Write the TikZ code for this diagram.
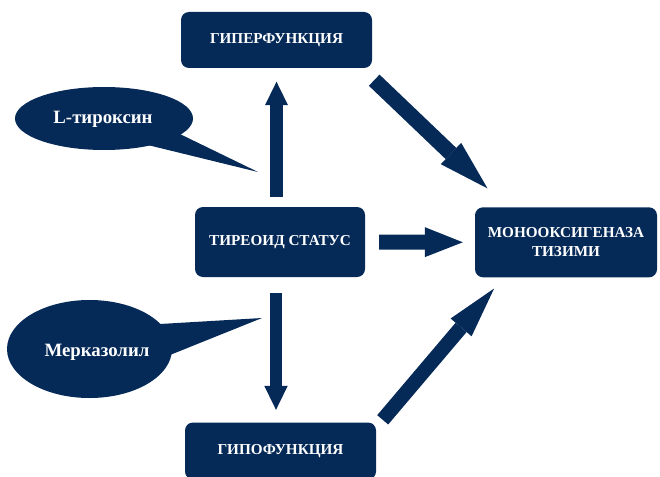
\documentclass[tikz,border=0pt]{standalone}
\usepackage{fontspec}
\setmainfont{Liberation Serif}
\usetikzlibrary{arrows.meta,shapes.geometric}
\definecolor{navy}{RGB}{6,42,88}
\tikzset{
  boxnode/.style={draw=none, fill=navy, rounded corners=8pt, text=white,
    font=\fontsize{15.2}{19}\selectfont\bfseries, align=center, inner sep=0pt},
  bubble/.style={ellipse, fill=navy, inner sep=0pt},
  btext/.style={text=white, font=\fontsize{18.8}{22}\selectfont\bfseries, inner sep=0pt},
  blk/.style n args={3}{draw=navy, line width=#1, line cap=butt,
    -{Triangle[length=#2, width=#3, fill=navy, line width=0pt]}},
}
\begin{document}
\begin{tikzpicture}[x=1pt, y=-1pt]
\useasboundingbox (0,0) rectangle (660,476);

% boxes
\node[boxnode, minimum width=191pt, minimum height=56pt] (hyper) at (276.5,40) {ГИПЕРФУНКЦИЯ};
\node[boxnode, minimum width=170pt, minimum height=70pt] (tir) at (280,242) {ТИРЕОИД СТАТУС};
\node[boxnode, minimum width=182pt, minimum height=70pt] (mono) at (566,242.3) {МОНООКСИГЕНАЗА\\ТИЗИМИ};
\node[boxnode, minimum width=191pt, minimum height=57pt] (gipo) at (280.5,451) {ГИПОФУНКЦИЯ};

% callouts
\node[bubble, minimum width=178pt, minimum height=63pt] (lt) at (104,118.5) {};
\fill[navy] (170,129.2) -- (258,172) -- (140,143.1) -- cycle;
\node[btext] (ltt) at (103,119) {L-тироксин};

\node[bubble, minimum width=165pt, minimum height=98pt] (mk) at (89.5,349) {};
\fill[navy] (160,324) -- (262,318) -- (160,359) -- cycle;
\node[btext] (mkt) at (97,352) {Мерказолил};

% block arrows
\draw[blk={13pt}{23.5pt}{23pt}, shorten <=10pt, shorten >=13.5pt]
  (hyper.south |- tir.north) -- (hyper.south);
\draw[blk={12.5pt}{24pt}{23.5pt}, shorten <=16pt, shorten >=12.5pt]
  ([xshift=-4pt]tir.south) -- ([xshift=-4pt]tir.south |- gipo.north);
\draw[blk={15pt}{38pt}{30pt}, shorten <=14pt, shorten >=12pt]
  (tir.east) -- (mono.west);
\draw[blk={15.4pt}{50.5pt}{29.5pt}]
  ([shift={(2,12)}]hyper.south east) -- ([shift={(12.7,-18.7)}]mono.north west);
\draw[blk={14.4pt}{51pt}{27.5pt}]
  ([shift={(6.5,-2.5)}]gipo.north east) -- ([shift={(19.3,11)}]mono.south west);
\end{tikzpicture}
\end{document}
